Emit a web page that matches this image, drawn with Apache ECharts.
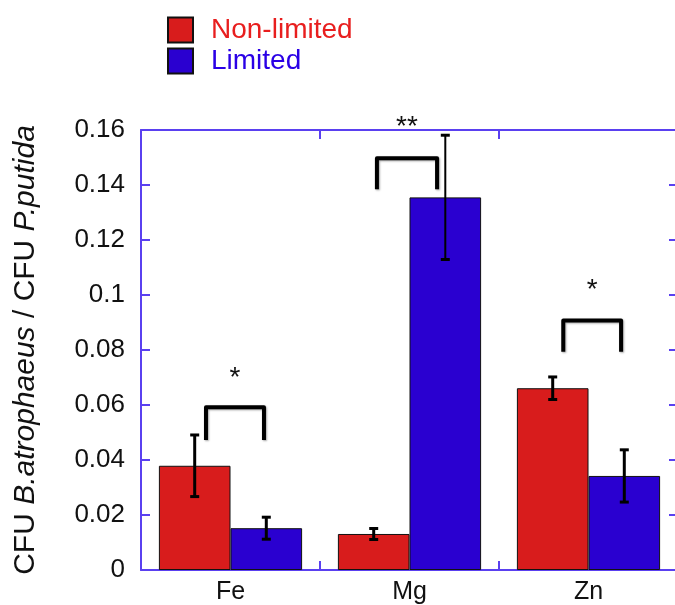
<!DOCTYPE html>
<html>
<head>
<meta charset="utf-8">
<script src="https://cdn.jsdelivr.net/npm/echarts@6/dist/echarts.min.js"></script>
<style>
html,body{margin:0;padding:0;background:#fff;}
#chart{width:675px;height:605px;}
</style>
</head>
<body>
<div id="chart"></div>
<script>
// ---- data ----
const categories = ['Fe', 'Mg', 'Zn'];
const nonLimited = [0.0379, 0.0131, 0.0661];
const limited = [0.0152, 0.1355, 0.0342];
const nonLimitedErr = [0.0112, 0.0020, 0.0041];
const limitedErr = [0.0040, 0.0226, 0.0095];
const seriesNames = ['Non-limited', 'Limited'];
const yTickMin = 0, yTickMax = 0.16, yTickStep = 0.02;
// significance brackets (x in category units, y in data units)
const bracketX1 = [0.363, 1.318, 2.359];
const bracketX2 = [0.687, 1.654, 2.682];
const bracketTop = [0.0592, 0.1497, 0.0907];
const bracketBottom = [0.0473, 0.1385, 0.0794];
const sigLabels = ['*', '**', '*'];
const sigY = [0.0720, 0.1630, 0.1040];

// ---- styles ----
const RED = '#d81c1c';
const BLUE = '#2a00d0';
const AXIS = '#5a40f0';
const FONT = 'Liberation Sans, Arial, sans-serif';

const chart = echarts.init(document.getElementById('chart'), null, {renderer: 'canvas'});

function errRender(offsetSign, errs, lw) {
  return function (params, api) {
    const i = api.value(0);
    const v = api.value(1);
    const e = errs[params.dataIndex];
    const band = api.size([1, 0])[0];
    const c = api.coord([i, v]);
    const x = c[0] + offsetSign * band * 0.2;
    const yt = api.coord([i, v + e])[1];
    const yb = api.coord([i, v - e])[1];
    const hw = 4.5;
    const st = {stroke: '#000', lineWidth: 3};
    return {
      type: 'group',
      children: [
        {type: 'line', shape: {x1: x, y1: yt, x2: x, y2: yb}, style: {stroke: '#000', lineWidth: lw[params.dataIndex]}},
        {type: 'line', shape: {x1: x - hw, y1: yt, x2: x + hw, y2: yt}, style: st},
        {type: 'line', shape: {x1: x - hw, y1: yb, x2: x + hw, y2: yb}, style: st}
      ]
    };
  };
}

const bracketData = bracketX1.map((x, i) => [x, bracketX2[i], bracketTop[i], bracketBottom[i], sigY[i]]);

const tickStyle = {show: true, inside: true, length: 9, lineStyle: {color: AXIS, width: 2}};
const lineStyle = {show: true, onZero: false, lineStyle: {color: AXIS, width: 2}};

const option = {
  backgroundColor: '#fff',
  animation: false,
  textStyle: {fontFamily: FONT},
  legend: {
    orient: 'vertical',
    left: 167,
    top: 16,
    padding: 0,
    itemWidth: 25,
    itemHeight: 25,
    itemGap: 3,
    icon: 'rect',
    textStyle: {fontSize: 28, fontFamily: FONT, padding: [0, 0, 0, 13]},
    data: [
      {name: seriesNames[0], textStyle: {color: '#e81e1e'}},
      {name: seriesNames[1], textStyle: {color: '#2a00e6'}}
    ]
  },
  grid: {left: 141, top: 130, width: 537, height: 440, containLabel: false, outerBoundsMode: 'none'},
  xAxis: [
    {
      type: 'category', data: categories, position: 'bottom',
      axisLine: lineStyle,
      axisTick: tickStyle,
      axisLabel: {color: '#111', fontSize: 25, fontFamily: FONT, margin: 10},
      splitLine: {show: false}
    },
    {
      type: 'category', data: categories, position: 'top',
      axisLine: lineStyle,
      axisTick: tickStyle,
      axisLabel: {show: false},
      splitLine: {show: false}
    },
    {type: 'value', min: 0, max: 3, show: false}
  ],
  yAxis: [
    {
      type: 'value', min: yTickMin, max: yTickMax, interval: yTickStep, position: 'left',
      axisLine: lineStyle,
      axisTick: tickStyle,
      axisLabel: {color: '#111', fontSize: 26, fontFamily: FONT, margin: 16},
      splitLine: {show: false},
      name: '{n|CFU }{i|B.atrophaeus}{n| / CFU }{i|P.putida}',
      nameLocation: 'middle',
      nameGap: 100,
      nameRotate: 90,
      nameTextStyle: {
        color: '#111', fontSize: 30, fontFamily: FONT,
        rich: {
          n: {fontSize: 30, fontFamily: FONT, color: '#111'},
          i: {fontSize: 30, fontFamily: FONT, color: '#111', fontStyle: 'italic'}
        }
      }
    },
    {
      type: 'value', min: yTickMin, max: yTickMax, interval: yTickStep, position: 'right',
      axisLine: lineStyle,
      axisTick: tickStyle,
      axisLabel: {show: false},
      splitLine: {show: false}
    }
  ],
  series: [
    {
      name: seriesNames[0], type: 'bar', xAxisIndex: 0, yAxisIndex: 0,
      data: nonLimited, barCategoryGap: '20%', barGap: '0%',
      itemStyle: {color: RED, borderColor: '#111', borderWidth: 1}
    },
    {
      name: seriesNames[1], type: 'bar', xAxisIndex: 0, yAxisIndex: 0,
      data: limited, barCategoryGap: '20%', barGap: '0%',
      itemStyle: {color: BLUE, borderColor: '#111', borderWidth: 1}
    },
    {
      type: 'custom', xAxisIndex: 0, yAxisIndex: 0, z: 5,
      data: nonLimited.map((v, i) => [i, v]),
      encode: {x: 0, y: 1},
      renderItem: errRender(-1, nonLimitedErr, [3, 3, 3]),
      silent: true
    },
    {
      type: 'custom', xAxisIndex: 0, yAxisIndex: 0, z: 5,
      data: limited.map((v, i) => [i, v]),
      encode: {x: 0, y: 1},
      renderItem: errRender(1, limitedErr, [3, 2, 3]),
      silent: true
    },
    {
      type: 'custom', xAxisIndex: 2, yAxisIndex: 0, z: 6, clip: false,
      data: bracketData,
      encode: {x: [0, 1], y: [2, 3, 4]},
      renderItem: function (params, api) {
        const i = params.dataIndex;
        const p1 = api.coord([api.value(0), api.value(3)]);
        const p2 = api.coord([api.value(0), api.value(2)]);
        const p3 = api.coord([api.value(1), api.value(2)]);
        const p4 = api.coord([api.value(1), api.value(3)]);
        const s = api.coord([(api.value(0) + api.value(1)) / 2, api.value(4)]);
        return {
          type: 'group',
          children: [
            {
              type: 'polyline',
              shape: {points: [p1, p2, p3, p4]},
              style: {stroke: '#000', lineWidth: 4, fill: null, lineJoin: 'round',
                      shadowBlur: 2, shadowColor: 'rgba(0,0,0,0.35)', shadowOffsetX: 1, shadowOffsetY: 1}
            },
            {
              type: 'text',
              x: s[0], y: s[1] + 6,
              style: {text: sigLabels[i], fill: '#111', font: '28px ' + FONT,
                      align: 'center', verticalAlign: 'middle'}
            }
          ]
        };
      },
      silent: true
    }
  ]
};
chart.setOption(option);
</script>
</body>
</html>
